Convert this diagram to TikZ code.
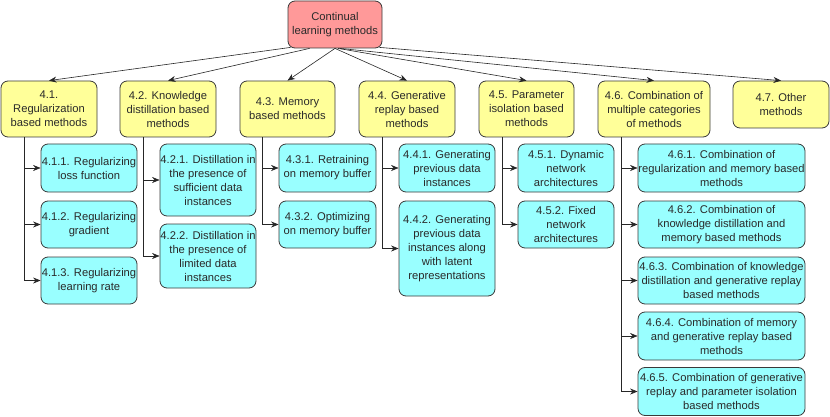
\documentclass[tikz,border=0pt]{standalone}
\usepackage{fontspec}
\setmainfont{Liberation Sans}
\usetikzlibrary{arrows.meta,calc}
\definecolor{rootfill}{HTML}{FF9999}
\definecolor{catfill}{HTML}{FFFF99}
\definecolor{subfill}{HTML}{99FFFF}
\definecolor{edge}{HTML}{3A3A3A}
\definecolor{txt}{HTML}{2A2A2A}
\definecolor{trunkgray}{HTML}{7A7A7A}
\tikzset{
  box/.style={draw=edge, line width=0.8pt, rounded corners=7pt, inner sep=0pt,
    align=center, text=txt, font=\fontsize{11.2}{14}\selectfont, anchor=center},
  rootbox/.style={box, fill=rootfill, minimum width=94pt, minimum height=47pt},
  catbox/.style={box, fill=catfill, minimum height=56pt},
  subbox/.style={box, fill=subfill},
  arr/.style={draw=black!85, line width=0.6pt, -{Stealth[length=7.5pt,width=6pt]}},
}
\begin{document}
\begin{tikzpicture}[x=1pt,y=-1pt]
\path[use as bounding box] (0,0) rectangle (830,417);

% root
\node[rootbox] (root) at (335,24.5) {Continual\\learning methods};

% categories
\node[catbox, minimum width=96pt] (t41) at (49,109) {4.1.\\Regularization\\based methods};
\node[catbox, minimum width=96pt] (t42) at (168,109) {4.2. Knowledge\\distillation based\\methods};
\node[catbox, minimum width=95pt] (t43) at (287.5,109) {4.3. Memory\\based methods};
\node[catbox, minimum width=96pt] (t44) at (407,109) {4.4. Generative\\replay based\\methods};
\node[catbox, minimum width=95pt] (t45) at (526.5,109) {4.5. Parameter\\isolation based\\methods};
\node[catbox, minimum width=112pt] (t46) at (654,109) {4.6. Combination of\\multiple categories\\of methods};
\node[box, fill=catfill, minimum width=96pt, minimum height=47pt] (t47) at (781,104.5) {4.7. Other\\methods};

% sub-categories
\node[subbox, minimum width=96pt, minimum height=48pt] (t411) at (89,168) {4.1.1. Regularizing\\loss function};
\node[subbox, minimum width=96pt, minimum height=47pt] (t412) at (89,224.5) {4.1.2. Regularizing\\gradient};
\node[subbox, minimum width=96pt, minimum height=47pt] (t413) at (89,280.5) {4.1.3. Regularizing\\learning rate};

\node[subbox, minimum width=96pt, minimum height=72pt] (t421) at (208,180) {4.2.1. Distillation in\\the presence of\\sufficient data\\instances};
\node[subbox, minimum width=96pt, minimum height=64pt] (t422) at (208,256) {4.2.2. Distillation in\\the presence of\\limited data\\instances};

\node[subbox, minimum width=97pt, minimum height=48pt] (t431) at (327.5,168) {4.3.1. Retraining\\on memory buffer};
\node[subbox, minimum width=97pt, minimum height=47pt] (t432) at (327.5,224.5) {4.3.2. Optimizing\\on memory buffer};

\node[subbox, minimum width=96pt, minimum height=48pt] (t441) at (447,168) {4.4.1. Generating\\previous data\\instances};
\node[subbox, minimum width=96pt, minimum height=95pt] (t442) at (447,248.5) {4.4.2. Generating\\previous data\\instances along\\with latent\\representations};

\node[subbox, minimum width=96pt, minimum height=48pt] (t451) at (566,168) {4.5.1. Dynamic\\network\\architectures};
\node[subbox, minimum width=96pt, minimum height=47pt] (t452) at (566,224.5) {4.5.2. Fixed\\network\\architectures};

\node[subbox, minimum width=167pt, minimum height=48pt] (t461) at (721.5,168) {4.6.1. Combination of\\regularization and memory based\\methods};
\node[subbox, minimum width=167pt, minimum height=47pt] (t462) at (721.5,224.5) {4.6.2. Combination of\\knowledge distillation and\\memory based methods};
\node[subbox, minimum width=167pt, minimum height=47pt] (t463) at (721.5,280.5) {4.6.3. Combination of knowledge\\distillation and generative replay\\based methods};
\node[subbox, minimum width=167pt, minimum height=48pt] (t464) at (721.5,336) {4.6.4. Combination of memory\\and generative replay based\\methods};
\node[subbox, minimum width=167pt, minimum height=48pt] (t465) at (721.5,391.5) {4.6.5. Combination of generative\\replay and parameter isolation\\based methods};

% root connectors
\draw[arr] ([xshift=3pt,yshift=1pt]root.south west) -- (t41.north);
\draw[arr] ([xshift=22pt]root.south west) -- (t42.north);
\draw[arr] (root.south) -- (t43.north);
\draw[arr] (root.south) -- (t44.north);
\draw[arr] ([xshift=3pt]root.south) -- (t45.north);
\draw[arr] ([xshift=5pt]root.south) -- (t46.north);
\draw[arr] ([xshift=-3pt,yshift=1pt]root.south east) -- (t47.north);

% trunk start points
\coordinate (b41) at ([xshift=24pt]t41.south west);
\coordinate (b42) at ([xshift=24pt]t42.south west);
\coordinate (b43) at ([xshift=23pt]t43.south west);
\coordinate (b44) at ([xshift=24pt]t44.south west);
\coordinate (b45) at ([xshift=24pt]t45.south west);
\coordinate (b46) at ([xshift=24pt]t46.south west);

% tree connectors
\foreach \c in {t411,t412,t413} \draw[arr] (b41) |- (\c);
\foreach \c in {t421,t422} \draw[arr] (b42) |- (\c);
\foreach \c in {t431,t432} \draw[arr] (b43) |- (\c);
\foreach \c in {t441,t442} \draw[arr] (b44) |- (\c);
\foreach \c in {t451,t452} \draw[arr] (b45) |- (\c);
\draw[trunkgray, line width=1.1pt] (b46) -- (b46 |- t465);
\foreach \c in {t461,t462,t463,t464,t465} \draw[arr] (b46) |- (\c);
\end{tikzpicture}
\end{document}
